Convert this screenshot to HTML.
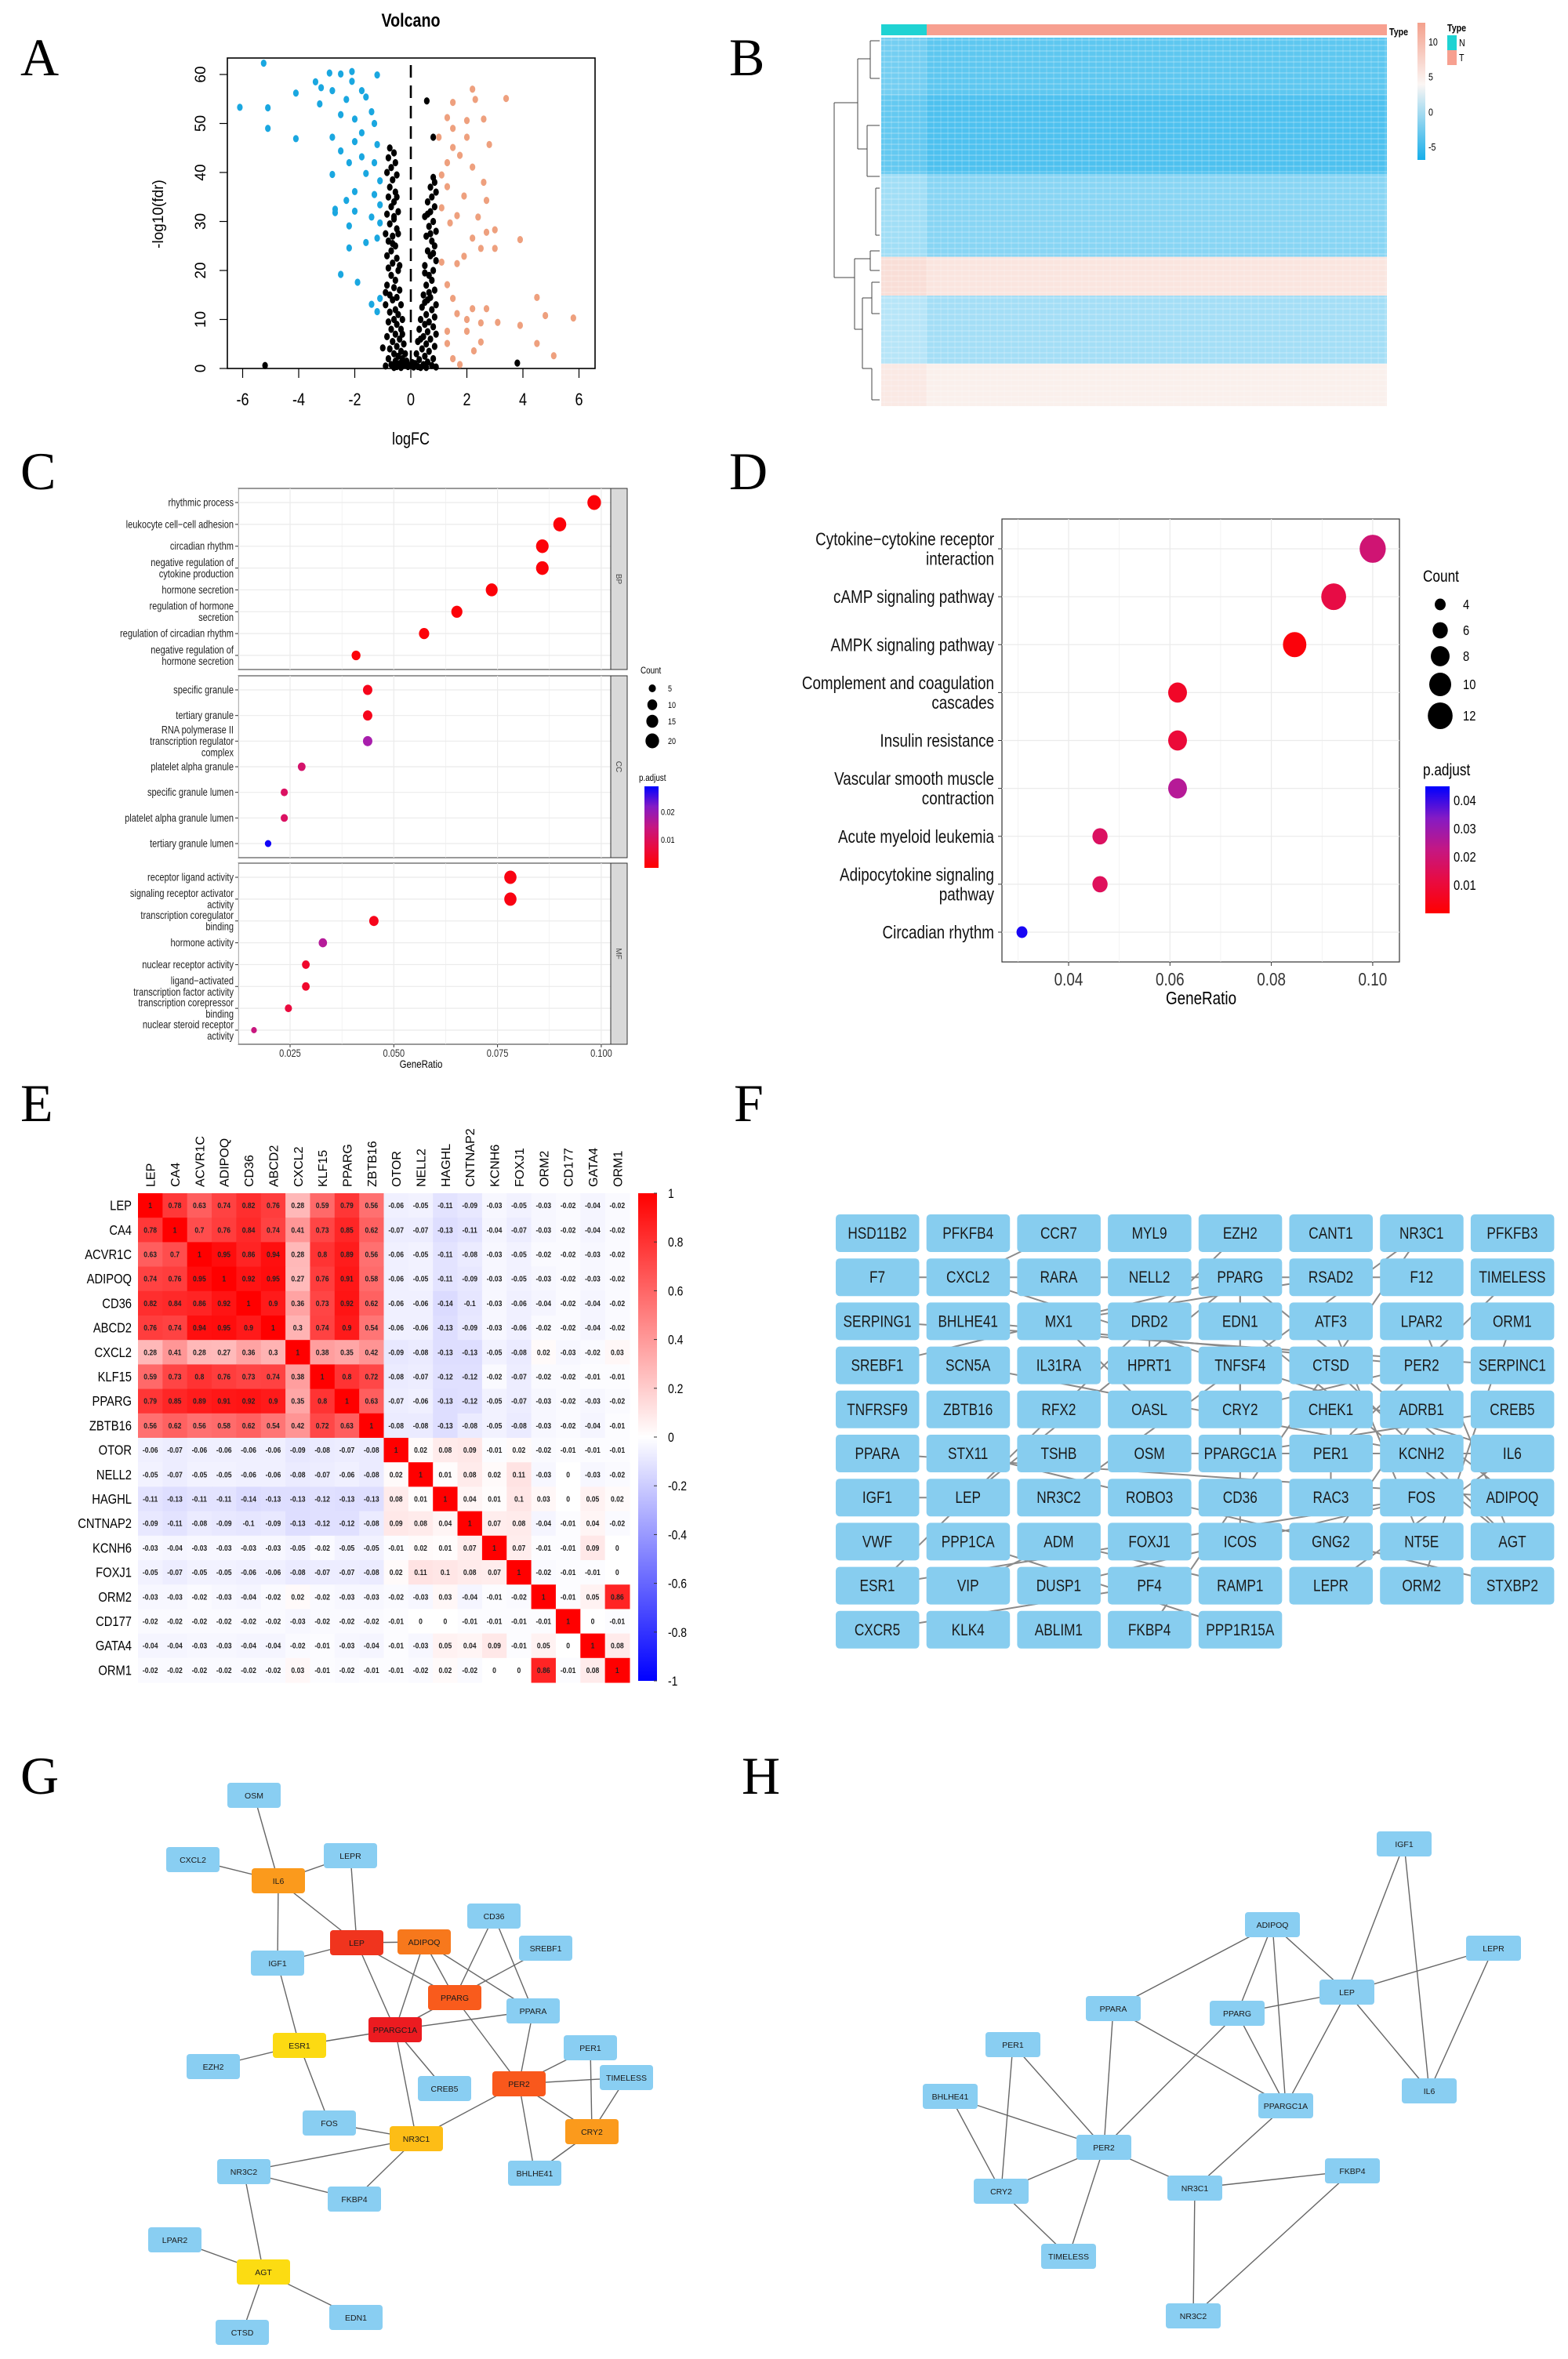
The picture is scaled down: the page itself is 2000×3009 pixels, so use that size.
<!DOCTYPE html>
<html><head><meta charset="utf-8">
<style>
html,body{margin:0;padding:0;background:#fff;}
svg{display:block;}
text{font-family:"Liberation Sans Narrow","Liberation Sans",sans-serif;}
.serif{font-family:"Liberation Serif",serif;}
</style></head>
<body>
<svg id="fig" xmlns="http://www.w3.org/2000/svg" width="2000" height="3009" viewBox="0 0 2000 3009">
<rect x="0" y="0" width="2000" height="3009" fill="#fff"/>
<text class="serif" x="26" y="96" font-size="68">A</text>
<text class="serif" x="930" y="96" font-size="68">B</text>
<text class="serif" x="26" y="624" font-size="68">C</text>
<text class="serif" x="930" y="624" font-size="68">D</text>
<text class="serif" x="26" y="1430" font-size="68">E</text>
<text class="serif" x="936" y="1430" font-size="68">F</text>
<text class="serif" x="26" y="2288" font-size="68">G</text>
<text class="serif" x="946" y="2288" font-size="68">H</text>
<g id="pA"></g>
<g id="pB"></g>
<g id="pC"></g>
<g id="pD"></g>
<g id="pE"></g>
<g id="pF"></g>
<g id="pG"></g>
<g id="pH"></g>
</svg>
<script>
// ===== Panel A data =====
const volcanoDown = [[-5.25,62.3],[-6.1,53.3],[-5.1,53.2],[-5.1,49],[-4.1,46.9],[-4.1,56.2],[-3.4,58.5],[-2.9,60.3],[-2.5,60.1],[-2.1,60.6],[-1.2,59.9],[-3.2,57.3],[-2.8,56.7],[-2.1,58.6],[-1.75,56.7],[-1.6,55.4],[-2.3,54.9],[-3.25,54],[-2.5,51.8],[-2,50.9],[-1.4,52.4],[-1.3,50],[-1.75,48.1],[-2.8,47.2],[-2,46.3],[-1.2,45.7],[-2.5,44.4],[-1.75,43.2],[-2.2,42],[-1.3,42],[-2.8,39.6],[-1.6,39.8],[-1.1,38.3],[-2,36.1],[-1.3,35.5],[-2.3,34.3],[-1.1,33.4],[-2.7,32.5],[-2.7,31.8],[-2,32.1],[-1.4,30.9],[-1.1,29.7],[-2.2,29.1],[-1.2,26.6],[-2.2,24.6],[-1.6,25.7],[-2.5,19.2],[-1.9,17.6],[-1.1,14.3],[-1.4,13.1],[-1.2,11.6]];
const volcanoUp = [[2.2,57],[3.4,55.1],[1.5,54.3],[2.3,54.9],[1.3,51.2],[2,50.6],[2.6,50.9],[1.5,49],[1,47.2],[2,47.2],[2.8,45.7],[1.5,45.1],[1.75,43.5],[1.3,42],[2.2,41.1],[1.1,39.5],[2.6,38],[1.3,37.1],[1.9,35.2],[2.7,34.3],[1.1,32.8],[1.65,31.2],[2.4,30.9],[1.4,29.7],[2.7,27.8],[3,28.3],[2.2,26.6],[3.9,26.3],[2.5,24.5],[3,24.5],[1.9,22.9],[1.1,21.7],[1.65,21.4],[1.3,17.1],[1.5,14.3],[4.5,14.5],[2.2,12.2],[2.7,12.2],[1.65,11.2],[4.8,10.8],[5.8,10.3],[2,10],[2.5,9.3],[3.1,9.4],[3.9,8.8],[1.3,7.6],[2,7.6],[2.5,5.4],[4.5,5.1],[1.3,5.1],[5.1,2.6],[2.25,3.6],[1.5,2],[1.75,0.8]];
const volcanoNs = [[-0.75,45],[-0.6,44],[-0.8,43],[-0.55,42],[-0.7,41],[-0.85,40],[-0.5,39.5],[-0.65,38.5],[-0.75,37],[-0.55,36],[-0.8,35],[-0.6,34],[-0.7,33],[-0.45,32],[-0.85,31.5],[-0.6,30.5],[-0.75,29.5],[-0.5,28.5],[-0.9,27.5],[-0.65,27],[-0.8,26],[-0.55,25],[-0.7,24],[-0.85,23],[-0.5,22.5],[-0.65,21.5],[-0.8,20.5],[-0.45,20],[-0.7,19],[-0.55,18],[-0.85,17],[-0.6,16.5],[-0.4,16],[-0.75,15],[-0.5,14.5],[-0.65,14],[-0.9,13],[-0.35,13],[-0.55,12],[-0.75,11.5],[-0.45,11],[-0.6,10],[-0.3,10],[-0.8,9.5],[-0.5,9],[-0.7,8],[-0.35,8],[-0.55,7],[-0.85,6.5],[-0.4,6],[-0.65,5.5],[-0.25,5],[-0.5,4.5],[-0.75,4],[-0.35,3.5],[-0.6,3],[-0.2,3],[-0.45,2.5],[-0.8,2],[-0.3,2],[-0.55,1.5],[-0.15,1.5],[-0.4,1],[-0.7,0.8],[-0.25,0.7],[-0.5,0.4],[-0.1,0.4],[-0.35,0.2],[-0.6,0.2],[-0.9,0.5],[-0.65,25.5],[-0.45,27.5],[-0.6,31],[-0.5,35],[-0.4,21],[-0.9,15.5],[-0.3,7],[-0.2,1],
[0.8,39],[0.85,38],[0.7,37],[0.9,36],[0.75,35],[0.6,34],[0.85,33],[0.7,32],[0.5,31],[0.8,30],[0.65,29],[0.9,28],[0.55,27],[0.75,26],[0.85,25],[0.6,24],[0.7,23],[0.9,22],[0.5,21],[0.8,20],[0.65,19],[0.75,18],[0.55,17],[0.85,16],[0.45,15],[0.7,14.5],[0.6,14],[0.9,13],[0.4,12.5],[0.75,12],[0.55,11],[0.85,10.5],[0.35,10],[0.65,9.5],[0.5,9],[0.8,8.5],[0.3,8],[0.6,7.5],[0.9,7],[0.45,6.5],[0.7,6],[0.25,5.5],[0.55,5],[0.85,4.5],[0.4,4],[0.65,3.5],[0.2,3],[0.5,2.5],[0.8,2],[0.3,1.8],[0.6,1.3],[0.15,1],[0.45,0.8],[0.75,0.6],[0.25,0.4],[0.9,0.3],[0.55,0.2],[0.1,0.3],[0.35,0.2],[0.65,15.5],[0.5,19.5],[0.8,23.5],[0.7,27.5],[0.6,31.5],[0.5,13.5],[0.35,6],[0.57,54.6],[0.8,47.2],[-5.2,0.6],[3.8,1.1],[-1.0,4.2],[-0.05,0.6],[0.05,1.2]];
const volcanoXTicks = [-6,-4,-2,0,2,4,6];
const volcanoYTicks = [0,10,20,30,40,50,60];

// ===== Panel B data =====
const heatBands = [[0,0.155,-2.6,-3.4],[0.155,0.37,-3.2,-4.0],[0.37,0.595,-1.0,-1.9],[0.595,0.70,4.2,3.6],[0.70,0.885,-0.2,-0.9],[0.885,1,3.2,2.6]];
const heatLegendTicks = [10,5,0,-5];

// ===== Panel C data =====
const goBP = ["rhythmic process","leukocyte cell−cell adhesion","circadian rhythm","negative regulation of\ncytokine production","hormone secretion","regulation of hormone\nsecretion","regulation of circadian rhythm","negative regulation of\nhormone secretion"];
const goBPRatio = [0.0983,0.090,0.0858,0.0858,0.0736,0.0652,0.0573,0.0409];
const goBPCount = [20,18,17,17,15,13,11,8];
const goBPPadj = [0.001,0.001,0.001,0.001,0.001,0.001,0.001,0.001];
const goCC = ["specific granule","tertiary granule","RNA polymerase II\ntranscription regulator\ncomplex","platelet alpha granule","specific granule lumen","platelet alpha granule lumen","tertiary granule lumen"];
const goCCRatio = [0.0437,0.0437,0.0437,0.0278,0.0236,0.0236,0.0197];
const goCCCount = [9,9,9,6,5,5,4];
const goCCPadj = [0.003,0.003,0.019,0.012,0.011,0.011,0.028];
const goMF = ["receptor ligand activity","signaling receptor activator\nactivity","transcription coregulator\nbinding","hormone activity","nuclear receptor activity","ligand−activated\ntranscription factor activity","transcription corepressor\nbinding","nuclear steroid receptor\nactivity"];
const goMFRatio = [0.0781,0.0781,0.0452,0.0329,0.0288,0.0288,0.0246,0.0163];
const goMFCount = [16,16,9,7,6,6,5,3];
const goMFPadj = [0.002,0.002,0.003,0.017,0.005,0.005,0.007,0.014];
const goXTicks = [0.025,0.050,0.075,0.100];
const goCountLegend = [5,10,15,20];
const goPadjTicks = [0.01,0.02];

// ===== Panel D data =====
const keggTerms = ["Cytokine−cytokine receptor\ninteraction","cAMP signaling pathway","AMPK signaling pathway","Complement and coagulation\ncascades","Insulin resistance","Vascular smooth muscle\ncontraction","Acute myeloid leukemia","Adipocytokine signaling\npathway","Circadian rhythm"];
const keggRatio = [0.1,0.0923,0.0846,0.0615,0.0615,0.0615,0.0462,0.0462,0.0308];
const keggCount = [13,12,11,8,8,8,6,6,4];
const keggPadj = [0.020,0.012,0.002,0.007,0.010,0.026,0.017,0.016,0.043];
const keggXTicks = [0.04,0.06,0.08,0.10];
const keggCountLegend = [4,6,8,10,12];
const keggPadjTicks = [0.01,0.02,0.03,0.04];

// ===== Panel E data =====
const corrGenes = ["LEP","CA4","ACVR1C","ADIPOQ","CD36","ABCD2","CXCL2","KLF15","PPARG","ZBTB16","OTOR","NELL2","HAGHL","CNTNAP2","KCNH6","FOXJ1","ORM2","CD177","GATA4","ORM1"];
const corrValues = [
[1,.78,.63,.74,.82,.76,.28,.59,.79,.56,-.06,-.05,-.11,-.09,-.03,-.05,-.03,-.02,-.04,-.02],
[.78,1,.7,.76,.84,.74,.41,.73,.85,.62,-.07,-.07,-.13,-.11,-.04,-.07,-.03,-.02,-.04,-.02],
[.63,.7,1,.95,.86,.94,.28,.8,.89,.56,-.06,-.05,-.11,-.08,-.03,-.05,-.02,-.02,-.03,-.02],
[.74,.76,.95,1,.92,.95,.27,.76,.91,.58,-.06,-.05,-.11,-.09,-.03,-.05,-.03,-.02,-.03,-.02],
[.82,.84,.86,.92,1,.9,.36,.73,.92,.62,-.06,-.06,-.14,-.1,-.03,-.06,-.04,-.02,-.04,-.02],
[.76,.74,.94,.95,.9,1,.3,.74,.9,.54,-.06,-.06,-.13,-.09,-.03,-.06,-.02,-.02,-.04,-.02],
[.28,.41,.28,.27,.36,.3,1,.38,.35,.42,-.09,-.08,-.13,-.13,-.05,-.08,.02,-.03,-.02,.03],
[.59,.73,.8,.76,.73,.74,.38,1,.8,.72,-.08,-.07,-.12,-.12,-.02,-.07,-.02,-.02,-.01,-.01],
[.79,.85,.89,.91,.92,.9,.35,.8,1,.63,-.07,-.06,-.13,-.12,-.05,-.07,-.03,-.02,-.03,-.02],
[.56,.62,.56,.58,.62,.54,.42,.72,.63,1,-.08,-.08,-.13,-.08,-.05,-.08,-.03,-.02,-.04,-.01],
[-.06,-.07,-.06,-.06,-.06,-.06,-.09,-.08,-.07,-.08,1,.02,.08,.09,-.01,.02,-.02,-.01,-.01,-.01],
[-.05,-.07,-.05,-.05,-.06,-.06,-.08,-.07,-.06,-.08,.02,1,.01,.08,.02,.11,-.03,0,-.03,-.02],
[-.11,-.13,-.11,-.11,-.14,-.13,-.13,-.12,-.13,-.13,.08,.01,1,.04,.01,.1,.03,0,.05,.02],
[-.09,-.11,-.08,-.09,-.1,-.09,-.13,-.12,-.12,-.08,.09,.08,.04,1,.07,.08,-.04,-.01,.04,-.02],
[-.03,-.04,-.03,-.03,-.03,-.03,-.05,-.02,-.05,-.05,-.01,.02,.01,.07,1,.07,-.01,-.01,.09,0],
[-.05,-.07,-.05,-.05,-.06,-.06,-.08,-.07,-.07,-.08,.02,.11,.1,.08,.07,1,-.02,-.01,-.01,0],
[-.03,-.03,-.02,-.03,-.04,-.02,.02,-.02,-.03,-.03,-.02,-.03,.03,-.04,-.01,-.02,1,-.01,.05,.86],
[-.02,-.02,-.02,-.02,-.02,-.02,-.03,-.02,-.02,-.02,-.01,0,0,-.01,-.01,-.01,-.01,1,0,-.01],
[-.04,-.04,-.03,-.03,-.04,-.04,-.02,-.01,-.03,-.04,-.01,-.03,.05,.04,.09,-.01,.05,0,1,.08],
[-.02,-.02,-.02,-.02,-.02,-.02,.03,-.01,-.02,-.01,-.01,-.02,.02,-.02,0,0,.86,-.01,.08,1]];
const corrTicks = [1,0.8,0.6,0.4,0.2,0,-0.2,-0.4,-0.6,-0.8,-1];

// ===== Panel F data =====
const ppiGenes = ["HSD11B2","PFKFB4","CCR7","MYL9","EZH2","CANT1","NR3C1","PFKFB3","F7","CXCL2","RARA","NELL2","PPARG","RSAD2","F12","TIMELESS","SERPING1","BHLHE41","MX1","DRD2","EDN1","ATF3","LPAR2","ORM1","SREBF1","SCN5A","IL31RA","HPRT1","TNFSF4","CTSD","PER2","SERPINC1","TNFRSF9","ZBTB16","RFX2","OASL","CRY2","CHEK1","ADRB1","CREB5","PPARA","STX11","TSHB","OSM","PPARGC1A","PER1","KCNH2","IL6","IGF1","LEP","NR3C2","ROBO3","CD36","RAC3","FOS","ADIPOQ","VWF","PPP1CA","ADM","FOXJ1","ICOS","GNG2","NT5E","AGT","ESR1","VIP","DUSP1","PF4","RAMP1","LEPR","ORM2","STXBP2","CXCR5","KLK4","ABLIM1","FKBP4","PPP1R15A"];
const ppiEdges = [["PPARG","LEP"],["PPARG","ADIPOQ"],["PPARG","CD36"],["PPARG","PPARGC1A"],["PPARG","SREBF1"],["PER2","PER1"],["PER2","CRY2"],["PER2","TIMELESS"],["PER2","BHLHE41"],["NR3C1","NR3C2"],["NR3C1","FKBP4"],["IL6","LEPR"],["IL6","OSM"],["IL6","CXCL2"],["LEP","IGF1"],["ESR1","EZH2"],["ESR1","FOS"],["AGT","EDN1"],["AGT","CTSD"],["AGT","LPAR2"],["PPARA","ADIPOQ"],["PPARGC1A","CREB5"],["DRD2","HPRT1"],["ADRB1","GNG2"],["DUSP1","FOS"],["VIP","ADM"],["RAMP1","ADM"],["PF4","CXCR5"],["F7","F12"],["SERPING1","SERPINC1"],["MX1","OASL"],["RSAD2","MX1"],["CCR7","CXCL2"],["ORM1","ORM2"],["KCNH2","SCN5A"],["PPP1CA","PPP1R15A"],["ICOS","TNFSF4"],["STX11","STXBP2"],["NT5E","ATF3"],["CHEK1","RAC3"]];

// ===== Panel G data =====
const gNodes = [["OSM",324,2290,"b"],["CXCL2",246,2372,"b"],["LEPR",447,2367,"b"],["IL6",355,2399,"#fb9a1c"],["CD36",630,2444,"b"],["LEP",455,2478,"#f0341e"],["ADIPOQ",541,2477,"#f7781c"],["SREBF1",696,2485,"b"],["IGF1",354,2504,"b"],["PPARG",580,2548,"#f95b1c"],["PPARA",680,2565,"b"],["PPARGC1A",504,2589,"#ec1b20"],["ESR1",382,2609,"#fcda12"],["EZH2",272,2636,"b"],["CREB5",567,2664,"b"],["PER2",662,2658,"#f9581c"],["PER1",753,2612,"b"],["TIMELESS",799,2650,"b"],["CRY2",755,2719,"#fb9a1c"],["FOS",420,2708,"b"],["NR3C1",531,2728,"#fdbd16"],["BHLHE41",682,2772,"b"],["NR3C2",311,2770,"b"],["FKBP4",452,2805,"b"],["LPAR2",223,2857,"b"],["AGT",336,2898,"#fcdc12"],["EDN1",454,2956,"b"],["CTSD",309,2975,"b"]];
const gEdges = [["OSM","IL6"],["CXCL2","IL6"],["LEPR","IL6"],["IL6","LEP"],["IL6","IGF1"],["LEPR","LEP"],["LEP","ADIPOQ"],["LEP","IGF1"],["LEP","PPARG"],["LEP","PPARGC1A"],["ADIPOQ","PPARG"],["ADIPOQ","PPARGC1A"],["ADIPOQ","PPARA"],["CD36","PPARG"],["CD36","PPARA"],["SREBF1","PPARG"],["PPARG","PPARGC1A"],["PPARG","PER2"],["PPARA","PPARGC1A"],["PPARA","PER2"],["PPARGC1A","ESR1"],["PPARGC1A","CREB5"],["PPARGC1A","NR3C1"],["IGF1","ESR1"],["ESR1","EZH2"],["ESR1","FOS"],["FOS","NR3C1"],["NR3C1","NR3C2"],["NR3C1","FKBP4"],["NR3C1","PER2"],["NR3C2","FKBP4"],["NR3C2","AGT"],["PER2","PER1"],["PER2","TIMELESS"],["PER2","CRY2"],["PER2","BHLHE41"],["PER1","CRY2"],["TIMELESS","CRY2"],["CRY2","BHLHE41"],["AGT","LPAR2"],["AGT","EDN1"],["AGT","CTSD"]];

// ===== Panel H data =====
const hNodes = [["IGF1",1791,2352],["ADIPOQ",1623,2455],["LEPR",1905,2485],["LEP",1718,2541],["PPARA",1420,2562],["PPARG",1578,2568],["PER1",1292,2608],["BHLHE41",1212,2674],["IL6",1823,2667],["PPARGC1A",1640,2686],["PER2",1408,2739],["CRY2",1277,2795],["NR3C1",1524,2791],["FKBP4",1725,2769],["TIMELESS",1363,2878],["NR3C2",1522,2954]];
const hEdges = [["IGF1","LEP"],["IGF1","IL6"],["ADIPOQ","PPARA"],["ADIPOQ","PPARG"],["ADIPOQ","PPARGC1A"],["ADIPOQ","LEP"],["LEPR","LEP"],["LEPR","IL6"],["LEP","PPARG"],["LEP","PPARGC1A"],["LEP","IL6"],["PPARA","PER2"],["PPARA","PPARGC1A"],["PPARG","PER2"],["PPARG","PPARGC1A"],["PER1","PER2"],["PER1","CRY2"],["BHLHE41","PER2"],["BHLHE41","CRY2"],["PER2","CRY2"],["PER2","TIMELESS"],["PER2","NR3C1"],["CRY2","TIMELESS"],["PPARGC1A","NR3C1"],["NR3C1","FKBP4"],["NR3C1","NR3C2"],["FKBP4","NR3C2"]];

const NS = 'http://www.w3.org/2000/svg';
function mk(tag, attrs, parent){
  const e = document.createElementNS(NS, tag);
  for (const k in attrs) e.setAttribute(k, attrs[k]);
  parent.appendChild(e);
  return e;
}
function lerp(a,b,t){return a+(b-a)*t;}
function hex(c){return [parseInt(c.slice(1,3),16),parseInt(c.slice(3,5),16),parseInt(c.slice(5,7),16)];}
function mix(c1,c2,t){t=Math.max(0,Math.min(1,t));const a=hex(c1),b=hex(c2);return 'rgb('+Math.round(lerp(a[0],b[0],t))+','+Math.round(lerp(a[1],b[1],t))+','+Math.round(lerp(a[2],b[2],t))+')';}
function padjColor(t){
  const stops=[[0,'#ff0000'],[0.35,'#e0105a'],[0.7,'#a020b8'],[1,'#0000ff']];
  for(let i=1;i<stops.length;i++){ if(t<=stops[i][0]){return mix(stops[i-1][1],stops[i][1],(t-stops[i-1][0])/(stops[i][0]-stops[i-1][0]));}}
  return '#0000ff';
}

// ===================== PANEL A =====================
(function(){
  const g = document.getElementById('pA');
  const xA = v => 524 + v*35.75;
  const yA = v => 470 - v*6.25;
  let t = mk('text',{x:524,y:34,'font-size':24,'font-weight':'bold','text-anchor':'middle'},g); t.textContent='Volcano';
  
  
  let box = mk('rect',{x:290,y:74,width:469,height:396,fill:'none',stroke:'#000','stroke-width':1.6},g);
  
  
  let dl = mk('line',{x1:xA(0),x2:xA(0),y1:83,y2:470,stroke:'#000','stroke-width':2.6,'stroke-dasharray':'16 10'},g);
  
  
  const groups=[[volcanoNs,'#000','ns-point'],[volcanoDown,'#1aa7e0','down-point'],[volcanoUp,'#eea07e','up-point']];
  groups.forEach(gr=>{
    gr[0].forEach(p=>{
      const c = mk('ellipse',{cx:xA(p[0]),cy:yA(p[1]),rx:3.6,ry:4.6,fill:gr[1]},g);
      
      
    });
  });
  volcanoXTicks.forEach(v=>{
    const l = mk('line',{x1:xA(v),x2:xA(v),y1:470,y2:482,stroke:'#000','stroke-width':1.2},g);
    
    
    const tx = mk('text',{x:xA(v),y:517,'font-size':22,'text-anchor':'middle'},g); tx.textContent=String(v);
    
    
  });
  volcanoYTicks.forEach(v=>{
    const l = mk('line',{x1:280,x2:290,y1:yA(v),y2:yA(v),stroke:'#000','stroke-width':1.2},g);
    
    
    const tx = mk('text',{x:0,y:0,'font-size':19,'text-anchor':'middle','font-family':'Liberation Sans',transform:'translate(262,'+yA(v)+') rotate(-90)'},g); tx.textContent=String(v);
    
    
  });
  let xl = mk('text',{x:524,y:567,'font-size':22,'text-anchor':'middle'},g); xl.textContent='logFC';
  
  
  let yl = mk('text',{x:0,y:0,'font-size':19,'text-anchor':'middle','font-family':'Liberation Sans',transform:'translate(208,273) rotate(-90)'},g); yl.textContent='-log10(fdr)';
  
  
})();

// ===================== PANEL B =====================
(function(){
  const g = document.getElementById('pB');
  const hv = v => v>=2 ? mix('#fbf6f4','#f4a08c',(v-2)/8) : mix('#f4fafd','#16aeea',(2-v)/8);
  const top=48, bot=518, H=bot-top, xN0=1124, xN1=1182, xT1=1769;
  heatBands.forEach(b=>{
    const y0=top+b[0]*H, h=(b[1]-b[0])*H;
    const r1 = mk('rect',{x:xN0,y:y0,width:xN1-xN0,height:h,fill:hv(b[2])},g);
    
    
    const r2 = mk('rect',{x:xN1,y:y0,width:xT1-xN1,height:h,fill:hv(b[3])},g);
    
    
  });
  for(let y=top+3;y<bot;y+=7){
    const l = mk('line',{x1:xN0,x2:xT1,y1:y,y2:y,stroke:'#ffffff','stroke-opacity':0.25,'stroke-width':1.5},g);
    
    
  }
  for(let x=xN0+4;x<xT1;x+=9){
    const l = mk('line',{x1:x,x2:x,y1:top,y2:bot,stroke:'#ffffff','stroke-opacity':0.12,'stroke-width':2},g);
    
    
  }
  let a1 = mk('rect',{x:xN0,y:31,width:xN1-xN0,height:14,fill:'#1fd3d3'},g);
  
  
  let a2 = mk('rect',{x:xN1,y:31,width:xT1-xN1,height:14,fill:'#f7a090'},g);
  
  
  let tt = mk('text',{x:1772,y:45,'font-size':13,'font-weight':'bold'},g); tt.textContent='Type';
  
  
  let d = mk('path',{d:'M1064,131 V354 M1064,131 H1094 M1064,354 H1090 M1094,75 V190 M1094,75 H1110 M1094,190 H1106 M1106,160 V225 M1106,160 H1122 M1106,225 H1122 M1110,52 V100 M1110,52 H1122 M1110,100 H1122 M1090,330 V420 M1090,330 H1110 M1090,420 H1100 M1110,320 V345 M1110,320 H1122 M1110,345 H1122 M1100,380 V470 M1100,380 H1112 M1100,470 H1112 M1112,360 V400 M1112,470 V510 M1112,360 H1122 M1112,400 H1122 M1112,510 H1122 M1117,240 V300 M1117,240 H1122 M1117,300 H1122',fill:'none',stroke:'#444','stroke-width':1},g);
  
  
  const defs = mk('defs',{},g);
  const lg = mk('linearGradient',{id:'hmgrad',x1:0,y1:0,x2:0,y2:1},defs);
  mk('stop',{offset:'0','stop-color':'#f4a08c'},lg);
  mk('stop',{offset:'0.45','stop-color':'#fbf6f4'},lg);
  mk('stop',{offset:'1','stop-color':'#16aeea'},lg);
  let cb = mk('rect',{x:1808,y:29,width:10,height:175,fill:'url(#hmgrad)'},g);
  
  
  heatLegendTicks.forEach((v,i)=>{
    const tx = mk('text',{x:1822,y:58+i*44.7,'font-size':13},g); tx.textContent=String(v);
    
    
  });
  let lt = mk('text',{x:1846,y:40,'font-size':13,'font-weight':'bold'},g); lt.textContent='Type';
  
  
  [['N','#1fd3d3',45],['T','#f7a090',64]].forEach(e=>{
    const r = mk('rect',{x:1846,y:e[2],width:12,height:19,fill:e[1]},g);
    
    
    const tx = mk('text',{x:1861,y:e[2]+14,'font-size':13},g); tx.textContent=e[0];
    
    
  });
})();

// ===================== PANEL C =====================
(function(){
  const g = document.getElementById('pC');
  const xC = v => 370 + (v-0.025)*5292;
  const rC = c => 2*Math.sqrt(c)+0.5;
  const pmax = 0.029;
  const panels = [[goBP,goBPRatio,goBPCount,goBPPadj,623,854,'BP'],[goCC,goCCRatio,goCCCount,goCCPadj,862,1094,'CC'],[goMF,goMFRatio,goMFCount,goMFPadj,1101,1332,'MF']];
  panels.forEach(p=>{
    const [terms,ratio,count,padj,y0,y1,lab] = p;
    const bg = mk('rect',{x:304,y:y0,width:475,height:y1-y0,fill:'#fff',stroke:'#333','stroke-width':1},g);
    
    
    for(let v=0.0125; v<0.106; v+=0.0125){
      const gl = mk('line',{x1:xC(v),x2:xC(v),y1:y0,y2:y1,stroke:'#ebebeb','stroke-width':Math.abs((v/0.025)%1)<0.01||Math.abs((v/0.025)%1-1)<0.01?1.2:0.6},g);
      
      
    }
    const n = terms.length, step = (y1-y0-36)/(n-1);
    terms.forEach((term,i)=>{
      const y = y0+18+i*step;
      const hl = mk('line',{x1:304,x2:779,y1:y,y2:y,stroke:'#ebebeb','stroke-width':1.2},g);
      
      
      const tk = mk('line',{x1:300,x2:304,y1:y,y2:y,stroke:'#333'},g);
      
      
      const lines = term.split('\n');
      lines.forEach((ln,j)=>{
        const tx = mk('text',{x:298,y:y+4.5+(j-(lines.length-1)/2)*14.5,'font-size':13.5,'text-anchor':'end',fill:'#222'},g); tx.textContent=ln;
        
        
      });
      const c = mk('ellipse',{cx:xC(ratio[i]),cy:y,rx:rC(count[i])*0.92,ry:rC(count[i]),fill:padjColor(padj[i]/pmax)},g);
      
      
    });
    const st = mk('rect',{x:779,y:y0,width:21,height:y1-y0,fill:'#d9d9d9',stroke:'#333','stroke-width':1},g);
    
    
    const sl = mk('text',{x:0,y:0,'font-size':10,'text-anchor':'middle',fill:'#444','font-family':'Liberation Sans',transform:'translate(786,'+((y0+y1)/2)+') rotate(90)'},g); sl.textContent=lab;
    
    
  });
  goXTicks.forEach(v=>{
    const tk = mk('line',{x1:xC(v),x2:xC(v),y1:1332,y2:1336,stroke:'#333'},g);
    
    
    const tx = mk('text',{x:xC(v),y:1348,'font-size':13.5,'text-anchor':'middle',fill:'#333'},g); tx.textContent=v.toFixed(3);
    
    
  });
  let xt = mk('text',{x:537,y:1362,'font-size':14,'text-anchor':'middle'},g); xt.textContent='GeneRatio';
  
  
  let ct = mk('text',{x:817,y:859,'font-size':12},g); ct.textContent='Count';
  
  
  goCountLegend.forEach((v,i)=>{
    const yy=[878,899,920,945][i];
    const c = mk('ellipse',{cx:832,cy:yy,rx:rC(v)*0.92,ry:rC(v),fill:'#000'},g);
    
    
    const tx = mk('text',{x:852,y:yy+4,'font-size':11},g); tx.textContent=String(v);
    
    
  });
  let pt = mk('text',{x:815,y:996,'font-size':12},g); pt.textContent='p.adjust';
  
  
  const defs = mk('defs',{},g);
  const lg = mk('linearGradient',{id:'cgrad',x1:0,y1:1,x2:0,y2:0},defs);
  [0,0.25,0.5,0.75,1].forEach(t=>mk('stop',{offset:t,'stop-color':padjColor(t)},lg));
  let cb = mk('rect',{x:822,y:1003,width:18,height:104,fill:'url(#cgrad)'},g);
  
  
  goPadjTicks.forEach(v=>{
    const yy = 1107 - v/pmax*104;
    const tx = mk('text',{x:843,y:yy+4,'font-size':11},g); tx.textContent=String(v);
    
    
  });
})();

// ===================== PANEL D =====================
(function(){
  const g = document.getElementById('pD');
  const xD = v => 1363 + (v-0.04)*6465;
  const rD = c => 6.5*Math.sqrt(c)-5.5;
  const pmax = 0.045;
  const y0=662, y1=1227;
  const bg = mk('rect',{x:1278,y:y0,width:507,height:y1-y0,fill:'#fff',stroke:'#333','stroke-width':1.2},g);
  
  
  for(let v=0.03; v<0.105; v+=0.01){
    const major = Math.round(v*100)%2===0;
    const gl = mk('line',{x1:xD(v),x2:xD(v),y1:y0,y2:y1,stroke:'#ebebeb','stroke-width':major?1.3:0.6},g);
    
    
  }
  const n=keggTerms.length, step=(y1-y0-76)/(n-1);
  keggTerms.forEach((term,i)=>{
    const y = y0+38+i*step;
    const hl = mk('line',{x1:1278,x2:1785,y1:y,y2:y,stroke:'#ebebeb','stroke-width':1.3},g);
    
    
    const tk = mk('line',{x1:1273,x2:1278,y1:y,y2:y,stroke:'#333'},g);
    
    
    const lines = term.split('\n');
    lines.forEach((ln,j)=>{
      const tx = mk('text',{x:1268,y:y+8+(j-(lines.length-1)/2)*25,'font-size':23,'text-anchor':'end',fill:'#111'},g); tx.textContent=ln;
      
      
    });
    const c = mk('ellipse',{cx:xD(keggRatio[i]),cy:y,rx:rD(keggCount[i])*0.93,ry:rD(keggCount[i]),fill:padjColor(keggPadj[i]/pmax)},g);
    
    
  });
  keggXTicks.forEach(v=>{
    const tk = mk('line',{x1:xD(v),x2:xD(v),y1:y1,y2:y1+5,stroke:'#333'},g);
    
    
    const tx = mk('text',{x:xD(v),y:1257,'font-size':23,'text-anchor':'middle',fill:'#333'},g); tx.textContent=v.toFixed(2);
    
    
  });
  let xt = mk('text',{x:1532,y:1281,'font-size':23,'text-anchor':'middle'},g); xt.textContent='GeneRatio';
  
  
  let ct = mk('text',{x:1815,y:742,'font-size':21},g); ct.textContent='Count';
  
  
  keggCountLegend.forEach((v,i)=>{
    const yy=[771,804,837,873,913][i];
    const c = mk('ellipse',{cx:1837,cy:yy,rx:rD(v)*0.93,ry:rD(v),fill:'#000'},g);
    
    
    const tx = mk('text',{x:1866,y:yy+6,'font-size':18},g); tx.textContent=String(v);
    
    
  });
  let pt = mk('text',{x:1815,y:989,'font-size':21},g); pt.textContent='p.adjust';
  
  
  const defs = mk('defs',{},g);
  const lg = mk('linearGradient',{id:'dgrad',x1:0,y1:1,x2:0,y2:0},defs);
  [0,0.25,0.5,0.75,1].forEach(t=>mk('stop',{offset:t,'stop-color':padjColor(t)},lg));
  let cb = mk('rect',{x:1818,y:1003,width:31,height:162,fill:'url(#dgrad)'},g);
  
  
  keggPadjTicks.forEach(v=>{
    const yy = 1165 - (v/pmax)*162 ;
    const tx = mk('text',{x:1854,y:yy+6,'font-size':18},g); tx.textContent=String(v);
    
    
  });
})();

// ===================== PANEL E =====================
(function(){
  const g = document.getElementById('pE');
  const x0=176, y0=1522, cw=31.35, ch=31.2;
  const cc = v => v>=0 ? mix('#ffffff','#ff0000',v) : mix('#ffffff','#0000ff',-v);
  corrValues.forEach((row,i)=>{
    row.forEach((v,j)=>{
      const r = mk('rect',{x:x0+j*cw,y:y0+i*ch,width:cw+0.5,height:ch+0.5,fill:cc(v)},g);
      
      
      const tx = mk('text',{x:x0+j*cw+cw/2,y:y0+i*ch+ch/2+3.5,'font-size':10.5,'font-weight':'bold','text-anchor':'middle',fill:'#222'},g);
      tx.textContent = v===1?'1':(v===0?'0':(v<0?'-':'')+String(Math.abs(v)));
      
      
    });
  });
  corrGenes.forEach((gname,i)=>{
    const rl = mk('text',{x:168,y:y0+i*ch+ch/2+6,'font-size':18,'text-anchor':'end'},g); rl.textContent=gname;
    
    
    const cl = mk('text',{x:0,y:0,'font-size':16,'font-family':'Liberation Sans',transform:'translate('+(x0+i*cw+cw/2+6)+',1514) rotate(-90)'},g); cl.textContent=gname;
    
    
  });
  const defs = mk('defs',{},g);
  const lg = mk('linearGradient',{id:'egrad',x1:0,y1:0,x2:0,y2:1},defs);
  mk('stop',{offset:'0','stop-color':'#ff0000'},lg);
  mk('stop',{offset:'0.5','stop-color':'#ffffff'},lg);
  mk('stop',{offset:'1','stop-color':'#0000ff'},lg);
  let cb = mk('rect',{x:814,y:1522,width:24,height:622,fill:'url(#egrad)'},g);
  
  
  corrTicks.forEach(v=>{
    const yy = 1522 + (1-v)/2*622;
    const tk = mk('line',{x1:834,x2:838,y1:yy,y2:yy,stroke:'#333'},g);
    
    
    const tx = mk('text',{x:852,y:yy+6,'font-size':17},g); tx.textContent=String(v);
    
    
  });
})();

// ===================== PANEL F =====================
(function(){
  const g = document.getElementById('pF');
  const pos = {};
  ppiGenes.forEach((gn,i)=>{ const c=i%8, r=Math.floor(i/8); pos[gn]=[1066+c*115.7+53, 1549+r*56.2+24]; });
  ppiEdges.forEach(e=>{
    const a=pos[e[0]], b=pos[e[1]];
    const l = mk('line',{x1:a[0],y1:a[1],x2:b[0],y2:b[1],stroke:'#8a8a8a','stroke-width':2},g);
    
    
  });
  ppiGenes.forEach(gn=>{
    const p=pos[gn];
    const r = mk('rect',{x:p[0]-53,y:p[1]-24,width:106.5,height:48,rx:5,fill:'#87cdef'},g);
    
    
    const tx = mk('text',{x:p[0],y:p[1]+7,'font-size':21,'text-anchor':'middle',fill:'#1a1a1a'},g); tx.textContent=gn;
    
    
  });
})();

// ===================== PANEL G & H =====================
function drawNet(gid, nodes, edges, w, h, fs){
  const g = document.getElementById(gid);
  const pos = {};
  nodes.forEach(n=>pos[n[0]]=[n[1],n[2]]);
  edges.forEach(e=>{
    const a=pos[e[0]], b=pos[e[1]];
    const l = mk('line',{x1:a[0],y1:a[1],x2:b[0],y2:b[1],stroke:'#666','stroke-width':1.4},g);
    
    
  });
  nodes.forEach(n=>{
    const col = (!n[3]||n[3]==='b') ? '#89cef2' : n[3];
    const r = mk('rect',{x:n[1]-w/2,y:n[2]-h/2,width:w,height:h,rx:4,fill:col},g);
    
    
    const tx = mk('text',{x:n[1],y:n[2]+fs*0.36,'font-size':fs,'text-anchor':'middle',fill:'#1a1a1a','font-family':'Liberation Sans'},g); tx.textContent=n[0];
    
    
  });
}
drawNet('pG', gNodes, gEdges, 68, 32, 10.5);
drawNet('pH', hNodes, hEdges, 70, 32, 10.5);

// condense text (emulate narrow font)
document.querySelectorAll('#fig text').forEach(t=>{
  if (t.getAttribute('class')==='serif' || t.hasAttribute('transform') || t.hasAttribute('font-family')) return;
  const x = t.getAttribute('x'), y = t.getAttribute('y');
  t.setAttribute('x', 0);
  t.setAttribute('y', 0);
  t.setAttribute('transform', 'translate('+x+','+y+') scale(0.82,1)');
});
</script>
</body></html>
